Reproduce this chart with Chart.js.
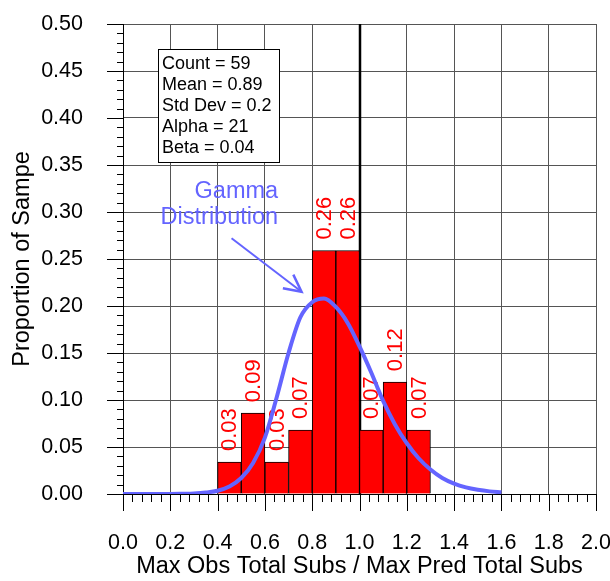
<!DOCTYPE html>
<html>
<head>
<meta charset="utf-8">
<script src="https://cdn.jsdelivr.net/npm/chart.js@4.4.0/dist/chart.umd.min.js"></script>
<style>
  body { margin: 0; background: #fff; }
</style>
</head>
<body>
<canvas id="histChart" width="610" height="581"></canvas>
<script>
// histogram: bin centres (width 0.1) and proportion of sample
const binCentres = [0.45, 0.55, 0.65, 0.75, 0.85, 0.95, 1.05, 1.15, 1.25];
const proportions = [0.034, 0.086, 0.034, 0.068, 0.259, 0.259, 0.068, 0.119, 0.068];

// fitted gamma curve
const curveX = [0.0, 0.1, 0.2, 0.25, 0.3, 0.35, 0.4, 0.45, 0.5, 0.55, 0.6, 0.65, 0.7, 0.75, 0.8, 0.85,
                0.9, 0.95, 1.0, 1.05, 1.1, 1.15, 1.2, 1.25, 1.3, 1.35, 1.4, 1.45, 1.5, 1.55, 1.6];
const curveY = [0.0, 0.0, 0.0, 0.0002, 0.0005, 0.0015, 0.0035, 0.008, 0.017, 0.033, 0.060, 0.103, 0.150, 0.188, 0.204, 0.208,
                0.199, 0.182, 0.157, 0.129, 0.099, 0.074, 0.054, 0.038, 0.026, 0.017, 0.011, 0.007, 0.0045, 0.0028, 0.0018];

const refLine = 1.0;   // observed = predicted
const statsLines = ['Count = 59', 'Mean = 0.89', 'Std Dev = 0.2', 'Alpha = 21', 'Beta = 0.04'];
const curveNote = ['Gamma', 'Distribution'];
const xTitle = 'Max Obs Total Subs / Max Pred Total Subs';
const yTitle = 'Proportion of Sampe';

const FONT = '"Liberation Sans", Arial, sans-serif';
const BLUE = '#6464ff';
Chart.defaults.font.family = FONT;
Chart.defaults.color = '#000';

// extra drawing: reference line, bar labels, ticks, stats box, arrow
const decorations = {
  id: 'decorations',
  beforeDatasetsDraw(chart) {
    const {ctx, chartArea, scales: {x}} = chart;
    const px = Math.round(x.getPixelForValue(refLine));
    ctx.save();
    ctx.strokeStyle = '#000';
    ctx.lineWidth = 2.5;
    ctx.beginPath();
    ctx.moveTo(px, chartArea.top);
    ctx.lineTo(px, chartArea.bottom);
    ctx.stroke();
    ctx.restore();
  },
  afterDatasetDraw(chart, args) {
    if (args.meta.type !== 'bar') return;
    const ctx = chart.ctx;
    ctx.save();
    ctx.fillStyle = '#ff0000';
    ctx.font = '22px ' + FONT;
    ctx.textAlign = 'left';
    ctx.textBaseline = 'middle';
    args.meta.data.forEach((bar, i) => {
      ctx.save();
      ctx.translate(bar.x + 1, bar.y - 11);
      ctx.rotate(-Math.PI / 2);
      ctx.fillText(proportions[i].toFixed(2), 0, 0);
      ctx.restore();
    });
    ctx.restore();
  },
  afterDraw(chart) {
    const {ctx, chartArea, scales: {x, y}} = chart;
    ctx.save();
    // tick marks
    ctx.strokeStyle = '#000';
    ctx.lineWidth = 1;
    ctx.beginPath();
    for (let i = 0; i <= 50; i++) {
      const px = Math.round(x.getPixelForValue(i * 0.04)) + 0.5;
      ctx.moveTo(px, chartArea.bottom);
      ctx.lineTo(px, chartArea.bottom + (i % 5 === 0 ? 17 : 8));
      const py = Math.round(y.getPixelForValue(i * 0.01)) + 0.5;
      ctx.moveTo(chartArea.left, py);
      ctx.lineTo(chartArea.left - (i % 5 === 0 ? 16 : 6), py);
    }
    ctx.stroke();

    // stats box
    const bx = Math.round(x.getPixelForValue(0.146)), by = Math.round(y.getPixelForValue(0.4735));
    const bw = 121, bh = 113;
    ctx.fillStyle = '#fff';
    ctx.fillRect(bx, by, bw, bh);
    ctx.strokeRect(bx + 0.5, by + 0.5, bw, bh);
    ctx.fillStyle = '#000';
    ctx.font = '18px ' + FONT;
    ctx.textAlign = 'left';
    ctx.textBaseline = 'alphabetic';
    statsLines.forEach((t, i) => ctx.fillText(t, bx + 4, by + 20 + i * 21.1));

    // curve note and arrow
    ctx.fillStyle = BLUE;
    ctx.font = '23.5px ' + FONT;
    ctx.textAlign = 'right';
    const nx = x.getPixelForValue(0.656);
    ctx.fillText(curveNote[0], nx, y.getPixelForValue(0.3152));
    ctx.fillText(curveNote[1], nx, y.getPixelForValue(0.2872));

    const x0 = x.getPixelForValue(0.459), y0 = y.getPixelForValue(0.272);
    const x1 = x.getPixelForValue(0.755), y1 = y.getPixelForValue(0.2152);
    const ang = Math.atan2(y1 - y0, x1 - x0);
    ctx.strokeStyle = BLUE;
    ctx.lineWidth = 2;
    ctx.beginPath();
    ctx.moveTo(x0, y0);
    ctx.lineTo(x1, y1);
    ctx.stroke();
    ctx.lineWidth = 2.5;
    ctx.beginPath();
    ctx.moveTo(x1 - 19 * Math.cos(ang - 0.47), y1 - 19 * Math.sin(ang - 0.47));
    ctx.lineTo(x1, y1);
    ctx.lineTo(x1 - 19 * Math.cos(ang + 0.47), y1 - 19 * Math.sin(ang + 0.47));
    ctx.stroke();
    ctx.restore();
  }
};

new Chart(document.getElementById('histChart'), {
  data: {
    datasets: [
      {
        type: 'bar',
        data: binCentres.map((c, i) => ({x: c, y: proportions[i]})),
        backgroundColor: '#ff0000',
        borderColor: '#000',
        borderWidth: 1,
        barPercentage: 1,
        categoryPercentage: 1,
        order: 2
      },
      {
        type: 'line',
        data: curveX.map((c, i) => ({x: c, y: curveY[i]})),
        borderColor: BLUE,
        borderWidth: 4,
        pointRadius: 0,
        cubicInterpolationMode: 'monotone',
        order: 1
      }
    ]
  },
  options: {
    responsive: false,
    animation: false,
    layout: { padding: { top: 24, right: 14, left: 0, bottom: 0 } },
    plugins: { legend: { display: false }, tooltip: { enabled: false } },
    scales: {
      x: {
        type: 'linear',
        min: 0, max: 2,
        offset: false,
        afterFit: s => { s.height = 87; s.paddingLeft = 0; s.paddingRight = 0; },
        ticks: { stepSize: 0.2, autoSkip: false, maxRotation: 0, padding: 36,
                 font: { size: 21.5 }, callback: v => v.toFixed(1) },
        grid: { color: '#555', drawTicks: false, offset: false },
        border: { color: '#000' },
        title: { display: true, text: xTitle, font: { size: 23.5 }, padding: { top: 0, bottom: 0 } }
      },
      y: {
        min: 0, max: 0.5,
        afterFit: s => { s.width = 123; s.paddingTop = 0; s.paddingBottom = 0; },
        ticks: { stepSize: 0.05, autoSkip: false, padding: 40,
                 font: { size: 21.5 }, callback: v => v.toFixed(2) },
        grid: { color: '#555', drawTicks: false },
        border: { color: '#000' },
        title: { display: true, text: yTitle, font: { size: 23.5 }, padding: { top: 8, bottom: 0 } }
      }
    }
  },
  plugins: [decorations]
});
</script>
</body>
</html>
